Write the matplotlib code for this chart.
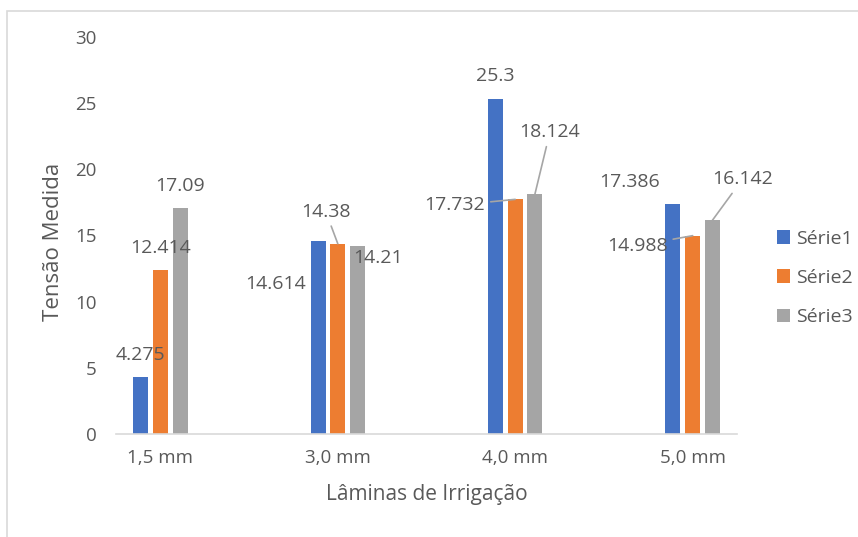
import matplotlib
matplotlib.use("Agg")
import matplotlib.pyplot as plt
from matplotlib.patches import Patch, Rectangle
import numpy as np

# data
# ====
categories = ["1,5 mm", "3,0 mm", "4,0 mm", "5,0 mm"]
series     = ["Série1", "Série2", "Série3"]
serie1     = [4.275, 14.614, 25.3, 17.386]
serie2     = [12.414, 14.38, 17.732, 14.988]
serie3     = [17.09, 14.21, 18.124, 16.142]

COLORS = ["#4472C4", "#ED7D31", "#A5A5A5"]
TXT    = "#595959"

# label offsets in pixels (dx, dy, ha, leader) per series / category
OFFS = [
    [(0, 22, "center", False), (-43, -43, "center", False),
     (0, 23, "center", False), (-43, 22, "center", False)],
    [(0, 22, "center", False), (-12, 32, "center", True),
     (-30, -6, "right", True), (-25, -10, "right", True)],
    [(0, 22, "center", False), (21, -12, "center", False),
     (15, 62, "center", True), (30, 41, "center", True)],
]

plt.rcParams["font.family"] = ["Open Sans", "DejaVu Sans"]

fig = plt.figure(figsize=(8.58, 5.37), dpi=100)
fig.patches.append(Rectangle((7 / 858, -0.1), 1.2, 1 - 11 / 537 + 0.1,
                             transform=fig.transFigure, fill=False,
                             edgecolor="#D9D9D9", lw=1.2))
ax = fig.add_axes([116 / 858, 1 - 434 / 537, 621 / 858, 397 / 537])

x    = np.arange(len(categories))
step = 0.111
w    = 0.085
for i, (name, vals) in enumerate(zip(series, [serie1, serie2, serie3])):
    xs = x + (i - 1) * step
    ax.bar(xs, vals, width=w, color=COLORS[i], label=name, zorder=2)
    for j, (xi, v) in enumerate(zip(xs, vals)):
        dx, dy, ha, leader = OFFS[i][j]
        kw = {}
        if leader:
            kw["arrowprops"] = dict(arrowstyle="-", color="#A6A6A6", lw=1.2,
                                    shrinkA=2, shrinkB=0)
        ax.annotate(f"{v:g}", xy=(xi, v), xytext=(dx, dy),
                    textcoords="offset pixels", ha=ha, va="center",
                    fontsize=14, color=TXT, **kw)

ax.set_xlim(-0.25, 3.25)
ax.set_ylim(0, 30)
ax.set_yticks(np.arange(0, 31, 5))
ax.set_xticks(x)
ax.set_xticklabels(categories)
for s in ("top", "right", "left"):
    ax.spines[s].set_visible(False)
ax.spines["bottom"].set_color("#D9D9D9")
ax.spines["bottom"].set_linewidth(1.2)
ax.tick_params(axis="both", length=0, labelsize=13.5, colors=TXT)
ax.tick_params(axis="y", pad=14)
ax.tick_params(axis="x", pad=11)
ax.set_xlabel("Lâminas de Irrigação", fontsize=15, color=TXT, labelpad=12)
ax.set_ylabel("Tensão Medida", fontsize=16, color=TXT)
ax.yaxis.set_label_coords(-0.084, 0.485)

handles = [Patch(facecolor=c) for c in COLORS]
fig.legend(handles, series, loc="center left",
           bbox_to_anchor=(759 / 858, 1 - 278 / 537), frameon=False,
           fontsize=14, labelcolor=TXT, handlelength=0.7, handleheight=0.7,
           handletextpad=0.3, labelspacing=1.1)

fig.savefig("out.png", dpi=100)
